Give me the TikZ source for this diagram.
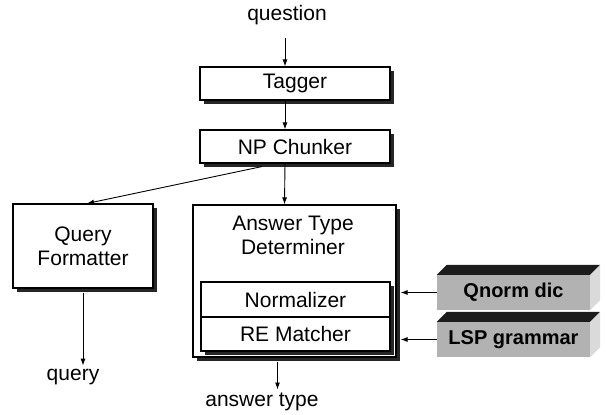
\documentclass[tikz,border=0pt]{standalone}
\usepackage{fontspec}
\setmainfont{Liberation Sans}
\usepackage{tikz}
\usepackage{xcolor}
\usetikzlibrary{arrows.meta,positioning,shadows,calc}
\definecolor{Shade}{HTML}{262626}
\definecolor{Stone}{HTML}{B2B2B2}
\definecolor{Pale}{HTML}{DADADA}
\definecolor{Ink}{HTML}{1C1C1C}

\begin{document}
\begin{tikzpicture}[x=1pt,y=-1pt,font=\fontsize{21}{24}\selectfont,
  >={Latex[length=7pt,width=5pt]},
  box/.style={draw,line width=1.1pt,fill=white,inner sep=0pt,align=center,
    drop shadow={shadow xshift=4pt,shadow yshift=-4pt,fill=Shade,opacity=1}},
  flow/.style={->,line width=0.9pt},
  store/.style={fill=Stone,inner sep=0pt,minimum width=153pt,minimum height=35pt,
    font=\fontsize{20}{24}\selectfont\bfseries}]
  \useasboundingbox (0,0) rectangle (606,415);
  \node (question) at (287,15) {question};
  \node[box,minimum width=190pt,minimum height=33pt] (tagger) at (295,83.5) {Tagger};
  \node[box,minimum width=190pt,minimum height=33pt] (chunker) at (295,146.5) {NP Chunker};
  \node[box,minimum width=140pt,minimum height=84pt] (formatter) at (83,246) {Query\\Formatter};
  \node[box,minimum width=203pt,minimum height=152pt] (atd) at (294.5,281) {};
  \node[align=center] (atdlabel) at (293,235) {Answer Type\\Determiner};
  \node[box,minimum width=189pt,minimum height=35pt] (normalizer) at (295.5,299.5) {Normalizer};
  \node[box,minimum width=189pt,minimum height=34pt] (matcher) at (295.5,334) {RE Matcher};
  \node (query) at (73,377) {query};
  \node (answer) at (262,402) {answer type};
  \node[store] (qnorm) at (513.5,292.5) {Qnorm dic};
  \node[store] (lsp) at (513.5,339.5) {LSP grammar};
  \foreach \s in {qnorm,lsp} {
    \fill[Ink] (\s.north west) -- ++(10,-10) -- ([shift={(10,-10)}]\s.north east)
      -- (\s.north east) -- cycle;
    \fill[Pale] (\s.north east) -- ++(10,-10) -- ([shift={(10,-10)}]\s.south east)
      -- (\s.south east) -- cycle;
  }
  \draw[flow] ([xshift=-2pt,yshift=-10pt]question.south) -- ([xshift=-10pt]tagger.north);
  \draw[flow] ([xshift=-10pt]tagger.south) -- ([xshift=-10pt]chunker.north);
  \draw[flow] ([xshift=-33pt,yshift=-3pt]chunker.south) -- ([xshift=4pt]formatter.north);
  \draw[flow] ([xshift=-10pt]chunker.south) -- ([xshift=-10pt]atd.north);
  \draw[flow] ([yshift=-4pt]formatter.south) -- (formatter.south |- query.north);
  \draw[flow] ([xshift=-17pt,yshift=-4pt]atd.south) -- ([xshift=-17pt]atd.south |- answer.north);
  \draw[flow,shorten >=4pt] (qnorm.west) -- (qnorm.west -| atd.east);
  \draw[flow,shorten >=4pt] (lsp.west) -- (lsp.west -| atd.east);
\end{tikzpicture}
\end{document}
